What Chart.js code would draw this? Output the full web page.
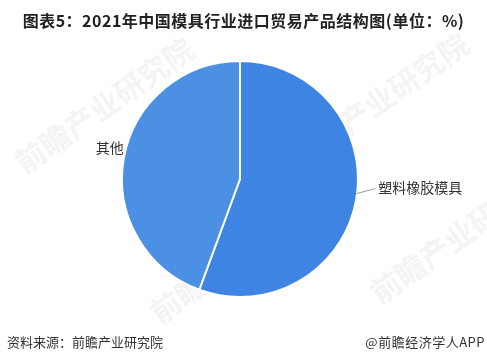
<!DOCTYPE html>
<html>
<head>
<meta charset="utf-8">
<script src="https://cdn.jsdelivr.net/npm/chart.js@4"></script>
<style>
  html, body { margin: 0; padding: 0; background: #fff; }
  #wrap { position: relative; width: 487px; height: 364px; overflow: hidden; }
  canvas { position: absolute; left: 0; top: 0; }
  .t { position: absolute; white-space: nowrap; font-family: "Noto Sans CJK SC", "Noto Sans", sans-serif; }
  #title { left: 0; width: 487px; text-align: center; top: 8px; font-size: 16px; font-weight: bold; color: #222; letter-spacing: 0.5px; }
  #src { left: 7px; top: 332px; font-size: 13px; color: #333; }
  #app { right: 2px; top: 332px; font-size: 13px; color: #333; letter-spacing: 0.5px; }
</style>
</head>
<body>
<div id="wrap">
  <canvas id="c" width="487" height="364"></canvas>
  <div class="t" id="title">图表5：2021年中国模具行业进口贸易产品结构图(单位：%)</div>
  <div class="t" id="src">资料来源：前瞻产业研究院</div>
  <div class="t" id="app">@前瞻经济学人APP</div>
</div>
<script>
const categories = ['塑料橡胶模具', '其他'];
const shares = [55.6, 44.4];
const sliceColors = ['#3e85e3', '#4c90e4'];

const watermark = {
  id: 'watermark',
  beforeDraw(chart) {
    const ctx = chart.ctx;
    ctx.save();
    ctx.fillStyle = 'rgba(200,200,200,0.2)';
    ctx.font = 'bold 30px "Noto Sans CJK SC", sans-serif';
    const marks = [[25, 175], [300, 170], [160, 325], [380, 305]];
    marks.forEach(([x, y]) => {
      ctx.save();
      ctx.translate(x, y);
      ctx.rotate(-35 * Math.PI / 180);
      ctx.fillText('前瞻产业研究院', 0, 0);
      ctx.restore();
    });
    ctx.restore();
  }
};

const outerLabels = {
  id: 'outerLabels',
  afterDatasetsDraw(chart) {
    const ctx = chart.ctx;
    const meta = chart.getDatasetMeta(0);
    ctx.save();
    ctx.font = '14px "Noto Sans CJK SC", sans-serif';
    ctx.fillStyle = '#333';
    ctx.strokeStyle = '#999';
    ctx.lineWidth = 1;
    ctx.textBaseline = 'middle';
    meta.data.forEach((arc, i) => {
      const p = arc.getProps(['x', 'y', 'startAngle', 'endAngle', 'outerRadius'], true);
      const mid = (p.startAngle + p.endAngle) / 2;
      const cos = Math.cos(mid), sin = Math.sin(mid);
      const r = p.outerRadius;
      if (cos >= 0) {
        const x0 = p.x + cos * r, y0 = p.y + sin * r - 6;
        const x1 = x0 + 19, y1 = y0 - 5;
        ctx.beginPath();
        ctx.moveTo(x0, y0);
        ctx.lineTo(x1, y1);
        ctx.stroke();
        ctx.textAlign = 'left';
        ctx.fillText(categories[i], x1 + 3, y1 - 1);
      } else {
        const x0 = p.x + cos * r, y0 = p.y + sin * r - 11;
        ctx.textAlign = 'right';
        ctx.fillText(categories[i], x0, y0);
      }
    });
    ctx.restore();
  }
};

new Chart(document.getElementById('c'), {
  type: 'pie',
  data: {
    labels: categories,
    datasets: [{
      data: shares,
      backgroundColor: sliceColors,
      borderColor: '#ffffff',
      borderWidth: 2
    }]
  },
  options: {
    responsive: false,
    animation: false,
    layout: { padding: { top: 60, bottom: 66, left: 121, right: 128 } },
    plugins: {
      legend: { display: false },
      tooltip: { enabled: false },
      title: { display: false }
    }
  },
  plugins: [watermark, outerLabels]
});
</script>
</body>
</html>
